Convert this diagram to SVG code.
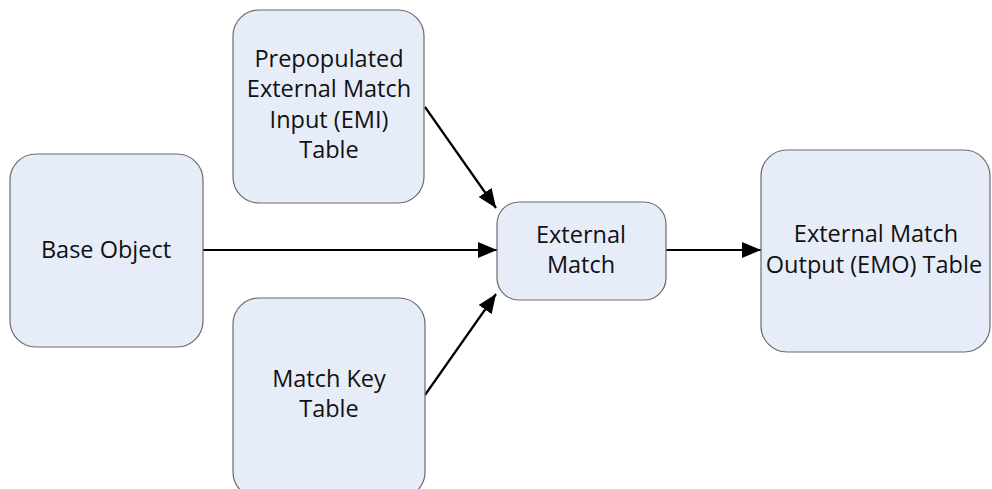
<svg xmlns="http://www.w3.org/2000/svg" width="992" height="489" viewBox="0 0 992 489">
<style>
.box{fill:#e7edf8;stroke:#6b6b6b;stroke-width:1.2}
.t{font-family:"Open Sans","Noto Sans",sans-serif;font-size:23.5px;fill:#111;text-anchor:middle}
.c{stroke:#000;stroke-width:2.2;fill:none;marker-end:url(#ah)}
</style>
<defs>
<marker id="ah" markerUnits="userSpaceOnUse" markerWidth="20" markerHeight="16" refX="19" refY="8" orient="auto">
<path d="M0,0 L19,8 L0,16 z" fill="#000"/>
</marker>
</defs>
<rect width="992" height="489" fill="#fff"/>
<g id="connectors">
<line class="c" x1="203" y1="250" x2="497" y2="250"/>
<line class="c" x1="666" y1="250" x2="761" y2="250"/>
<line class="c" x1="425" y1="107" x2="496" y2="208"/>
<line class="c" x1="425" y1="395" x2="496" y2="294"/>
</g>
<g id="emi">
<rect class="box" x="233" y="10" width="191" height="193" rx="26"/>
<text class="t" x="329" y="67">Prepopulated</text>
<text class="t" x="329" y="97">External Match</text>
<text class="t" x="329" y="128">Input (EMI)</text>
<text class="t" x="329" y="158">Table</text>
</g>
<g id="base">
<rect class="box" x="10" y="154" width="193" height="193" rx="26"/>
<text class="t" x="106" y="258">Base Object</text>
</g>
<g id="match">
<rect class="box" x="497" y="202" width="169" height="98" rx="22"/>
<text class="t" x="581" y="243">External</text>
<text class="t" x="581" y="273">Match</text>
</g>
<g id="emo">
<rect class="box" x="761" y="150" width="229" height="202" rx="26"/>
<text class="t" x="876" y="242">External Match</text>
<text class="t" x="874" y="273">Output (EMO) Table</text>
</g>
<g id="matchkey">
<rect class="box" x="233" y="298" width="192" height="200" rx="26"/>
<text class="t" x="329" y="387">Match Key</text>
<text class="t" x="329" y="417">Table</text>
</g>
</svg>
